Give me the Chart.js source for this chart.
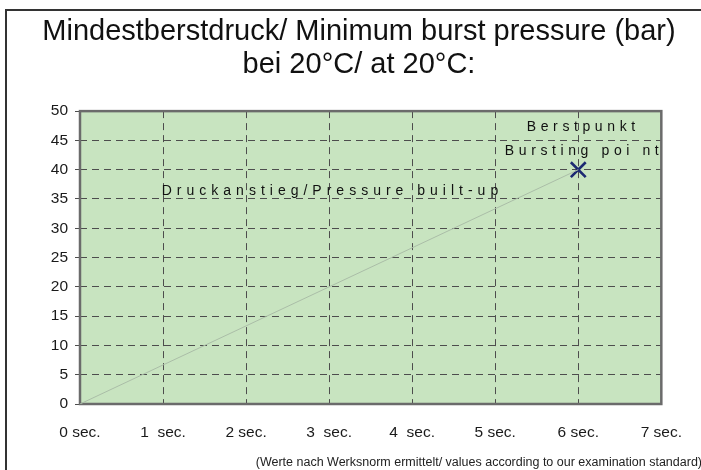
<!DOCTYPE html>
<html>
<head>
<meta charset="utf-8">
<script src="https://cdn.jsdelivr.net/npm/chart.js@4.4.0/dist/chart.umd.min.js"></script>
<style>
  html, body { margin: 0; padding: 0; background: #fff; }
  #wrap { position: relative; width: 701px; height: 470px; }
</style>
</head>
<body>
<div id="wrap"><canvas id="burstChart"></canvas></div>
<script>
'use strict';

// Daten aus dem Diagramm
const titleLines = ['Mindestberstdruck/ Minimum burst pressure (bar)', 'bei 20°C/ at 20°C:'];
const xTickLabels = ['0 sec.', '1  sec.', '2 sec.', '3  sec.', '4  sec.', '5 sec.', '6 sec.', '7 sec.'];
const riseSeconds = [0, 6];
const risePressure = [0, 40];
const burstSeconds = [6];
const burstPressure = [40];
const riseLabel = 'Druckanstieg/Pressure built-up';
const burstLabel = ['Berstpunkt', 'Bursting poi nt'];
const footNote = '(Werte nach Werksnorm ermittelt/ values according to our examination standard)';

const FONT = 'Arial, "Liberation Sans", Helvetica, sans-serif';
const DASH = [7, 5];
const GRID_COLOR = '#4d4d4d';

// Hintergrund, Rahmen, senkrechte Gitterlinien und Beschriftungen
const decorPlugin = {
    id: 'decor',
    beforeDraw(chart) {
        const { ctx, chartArea: a } = chart;
        ctx.save();
        ctx.fillStyle = '#fff';
        ctx.fillRect(0, 0, chart.width, chart.height);
        // äußerer Rahmen (links + oben)
        ctx.strokeStyle = '#333';
        ctx.lineWidth = 2;
        ctx.beginPath();
        ctx.moveTo(6, chart.height);
        ctx.lineTo(6, 10);
        ctx.lineTo(chart.width, 10);
        ctx.stroke();
        ctx.fillStyle = '#c8e4c0';
        ctx.fillRect(a.left, a.top, a.right - a.left, a.bottom - a.top);
        ctx.restore();
    },
    beforeDatasetsDraw(chart) {
        const { ctx, chartArea: a, scales: { x } } = chart;
        ctx.save();
        // gestrichelte senkrechte Linien an den x-Ticks
        ctx.strokeStyle = GRID_COLOR;
        ctx.lineWidth = 1;
        ctx.setLineDash(DASH);
        x.ticks.forEach(t => {
            const px = Math.round(x.getPixelForValue(t.value)) + 0.5;
            ctx.beginPath();
            ctx.moveTo(px, a.top);
            ctx.lineTo(px, a.bottom);
            ctx.stroke();
        });
        ctx.setLineDash([]);
        ctx.strokeStyle = '#6b6b6b';
        ctx.lineWidth = 2.5;
        ctx.strokeRect(a.left, a.top, a.right - a.left, a.bottom - a.top);
        ctx.restore();
    },
    afterDraw(chart) {
        const { ctx, scales: { x, y } } = chart;
        ctx.save();
        ctx.fillStyle = '#111';
        ctx.font = '14px ' + FONT;
        ctx.textBaseline = 'middle';
        ctx.textAlign = 'center';
        ctx.letterSpacing = '5px';
        ctx.fillText(riseLabel, x.getPixelForValue(3.04), y.getPixelForValue(36.4));
        ctx.letterSpacing = '4.6px';
        ctx.fillText(burstLabel[0], x.getPixelForValue(6.06), y.getPixelForValue(47.3));
        ctx.fillText(burstLabel[1], x.getPixelForValue(6.07), y.getPixelForValue(43.2));
        ctx.letterSpacing = '0px';
        ctx.font = '12.5px ' + FONT;
        ctx.textAlign = 'right';
        ctx.fillStyle = '#222';
        ctx.fillText(footNote, chart.width + 1, 463);
        ctx.restore();
    }
};

const ctx = document.getElementById('burstChart').getContext('2d');
new Chart(ctx, {
    type: 'scatter',
    data: {
        datasets: [
            {
                data: riseSeconds.map((s, i) => ({ x: s, y: risePressure[i] })),
                showLine: true,
                borderColor: '#aabda7',
                borderWidth: 1,
                pointRadius: 0
            },
            {
                data: burstSeconds.map((s, i) => ({ x: s, y: burstPressure[i] })),
                pointStyle: 'crossRot',
                pointRadius: 10.5,
                pointBorderWidth: 2.6,
                borderColor: '#1c2a72',
                backgroundColor: '#1c2a72'
            }
        ]
    },
    options: {
        responsive: true,
        maintainAspectRatio: false,
        animation: false,
        layout: { padding: { left: 17, right: 0, top: 0, bottom: 0 } },
        plugins: {
            legend: { display: false },
            tooltip: { enabled: false },
            title: {
                display: true,
                text: titleLines,
                color: '#111',
                font: { family: FONT, size: 29, weight: 'normal', lineHeight: 1.14 },
                padding: { top: 15.5, bottom: 29.5 }
            }
        },
        scales: {
            x: {
                type: 'linear',
                min: 0,
                max: 7,
                afterFit: (s) => { s.height = 66; },
                ticks: {
                    stepSize: 1,
                    callback: (v) => xTickLabels[v],
                    color: '#1a1a1a',
                    font: { family: FONT, size: 15.5 },
                    padding: 19,
                    maxRotation: 0
                },
                grid: { drawOnChartArea: false, drawTicks: false },
                border: { display: false }
            },
            y: {
                min: 0,
                max: 50,
                afterFit: (s) => { s.width = 63; },
                ticks: {
                    stepSize: 5,
                    color: '#1a1a1a',
                    font: { family: FONT, size: 15.5 },
                    padding: 7
                },
                grid: { color: GRID_COLOR, lineWidth: 1, tickLength: 5, tickBorderDash: DASH },
                border: { display: false, dash: DASH }
            },
            // leere rechte Achse als Abstand zum Rand
            yRight: {
                position: 'right',
                min: 0,
                max: 1,
                afterFit: (s) => { s.width = 38; },
                ticks: { display: false },
                grid: { display: false },
                border: { display: false }
            }
        }
    },
    plugins: [decorPlugin]
});
</script>
</body>
</html>
